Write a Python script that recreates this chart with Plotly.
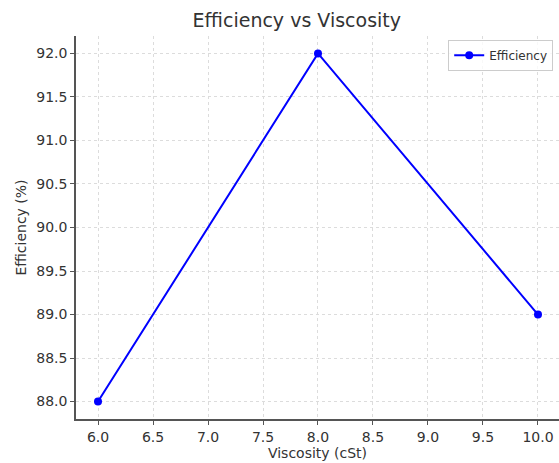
import plotly.graph_objects as go

viscosity = [6, 8, 10]
efficiency = [88, 92, 89]
x_ticks = [6.0, 6.5, 7.0, 7.5, 8.0, 8.5, 9.0, 9.5, 10.0]
y_ticks = [88.0, 88.5, 89.0, 89.5, 90.0, 90.5, 91.0, 91.5, 92.0]

FONT = "DejaVu Sans"
TXT = "#333333"

fig = go.Figure()
fig.add_trace(go.Scatter(
    x=viscosity, y=efficiency, mode="lines+markers", name="Efficiency",
    line=dict(color="#0000ff", width=2), marker=dict(color="#0000ff", size=8),
))

axis_common = dict(
    showline=True, linecolor="#555555", linewidth=1.5, mirror=False,
    ticks="outside", ticklen=4, tickcolor="#555555",
    showgrid=True, gridcolor="#dcdcdc", griddash="dot", gridwidth=1,
    zeroline=False, tickfont=dict(family=FONT, size=14, color=TXT),
    automargin=False,
)

fig.update_layout(
    width=559, height=463,
    margin=dict(l=76, r=0, t=36, b=44),
    paper_bgcolor="white", plot_bgcolor="white",
    title=dict(text="Efficiency vs Viscosity", x=0.531, xanchor="center", y=1 - 20 / 463, yanchor="middle",
               font=dict(family=FONT, size=19, color=TXT)),
    xaxis=dict(range=[5.8, 10.191], tickvals=x_ticks, ticktext=[f"{v:.1f}" for v in x_ticks],
               title=dict(text="Viscosity (cSt)", font=dict(family=FONT, size=14, color=TXT), standoff=4),
               **axis_common),
    yaxis=dict(range=[87.8, 92.2], tickvals=y_ticks, ticktext=[f"{v:.1f}" for v in y_ticks],
               title=dict(text="Efficiency (%)", font=dict(family=FONT, size=14, color=TXT), standoff=6),
               **axis_common),
    showlegend=True,
    legend=dict(x=0.988, y=0.99, xanchor="right", yanchor="top",
                bgcolor="rgba(255,255,255,0.8)", bordercolor="#cccccc", borderwidth=1,
                font=dict(family=FONT, size=12, color=TXT)),
)

fig.write_html("out.html", config={"displayModeBar": False},
               post_script="document.body.style.margin='0';document.body.style.padding='0';")
